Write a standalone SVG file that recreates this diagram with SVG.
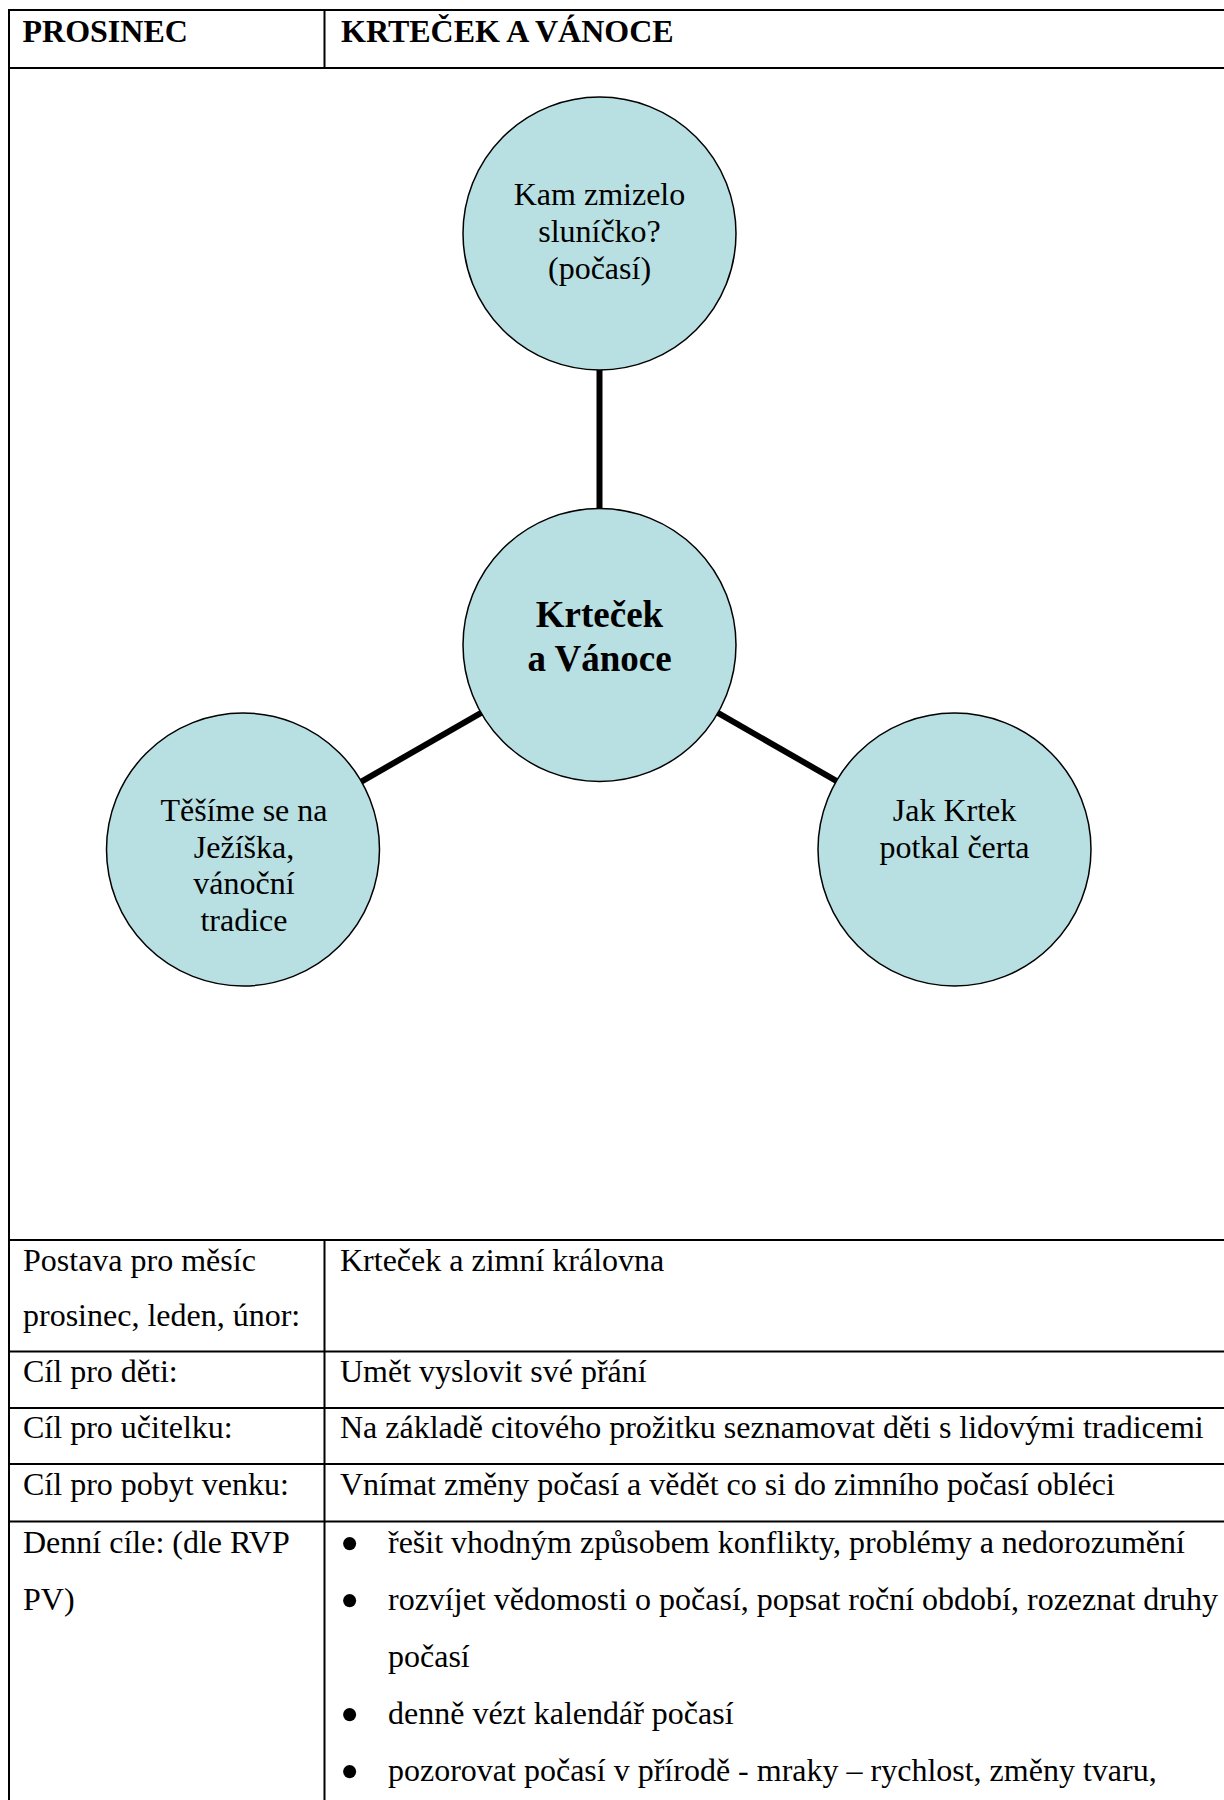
<svg xmlns="http://www.w3.org/2000/svg" width="1224" height="1800" viewBox="0 0 1224 1800">
<style>
.t{font-family:"Liberation Serif","Times New Roman",serif;font-size:32px;fill:#000}
.b{font-weight:bold}
.c{text-anchor:middle}
.bul{font-family:"Liberation Serif","Times New Roman",serif;font-size:55px;fill:#000}
.node{fill:#b8dfe2;stroke:#000;stroke-width:1.5}
.conn{stroke:#000;stroke-width:6;fill:none}
.grid{stroke:#000;stroke-width:2;fill:none}
</style>
<rect width="1224" height="1800" fill="#fff"/>
<g id="table">
<path class="grid" d="M9 10H1224M9 68H1224M9 1240H1224M9 1351.5H1224M9 1408H1224M9 1464H1224M9 1521.5H1224M9 9V1800M324.5 10V68M324.5 1240V1800"/>
<text class="t b" x="22.5" y="42">PROSINEC</text>
<text class="t b" x="341" y="42">KRTEČEK A VÁNOCE</text>
<text class="t" x="23" y="1271">Postava pro měsíc</text>
<text class="t" x="23" y="1326">prosinec, leden, únor:</text>
<text class="t" x="340" y="1271">Krteček a zimní královna</text>
<text class="t" x="23" y="1382">Cíl pro děti:</text>
<text class="t" x="340" y="1382">Umět vyslovit své přání</text>
<text class="t" x="23" y="1438">Cíl pro učitelku:</text>
<text class="t" x="340" y="1438">Na základě citového prožitku seznamovat děti s lidovými tradicemi</text>
<text class="t" x="23" y="1495">Cíl pro pobyt venku:</text>
<text class="t" x="340" y="1495">Vnímat změny počasí a vědět co si do zimního počasí obléci</text>
<text class="t" x="23" y="1553">Denní cíle: (dle RVP</text>
<text class="t" x="23" y="1610">PV)</text>
<text class="bul" x="340" y="1562">•</text>
<text class="t" x="388" y="1553">řešit vhodným způsobem konflikty, problémy a nedorozumění</text>
<text class="bul" x="340" y="1619">•</text>
<text class="t" x="388" y="1610">rozvíjet vědomosti o počasí, popsat roční období, rozeznat druhy</text>
<text class="t" x="388" y="1667">počasí</text>
<text class="bul" x="340" y="1733">•</text>
<text class="t" x="388" y="1724">denně vézt kalendář počasí</text>
<text class="bul" x="340" y="1790">•</text>
<text class="t" x="388" y="1781">pozorovat počasí v přírodě - mraky – rychlost, změny tvaru,</text>
</g>
<g id="connectors">
<line class="conn" x1="599.5" y1="368" x2="599.5" y2="510"/>
<line class="conn" x1="482" y1="712.4" x2="360.5" y2="782.1"/>
<line class="conn" x1="717" y1="712.4" x2="838.5" y2="782.1"/>
</g>
<g id="node-top">
<circle class="node" cx="599.5" cy="233.5" r="136.5"/>
<text class="t c" x="599.5" y="205">Kam zmizelo</text>
<text class="t c" x="599.5" y="242">sluníčko?</text>
<text class="t c" x="599.5" y="279">(počasí)</text>
</g>
<g id="node-center">
<circle class="node" cx="599.5" cy="645" r="136.5"/>
<text class="t b c" x="599.5" y="627" style="font-size:37px">Krteček</text>
<text class="t b c" x="599.5" y="671" style="font-size:37px">a Vánoce</text>
</g>
<g id="node-left">
<circle class="node" cx="243" cy="849.5" r="136.5"/>
<text class="t c" x="244" y="821">Těšíme se na</text>
<text class="t c" x="244" y="857.5">Ježíška,</text>
<text class="t c" x="244" y="894">vánoční</text>
<text class="t c" x="244" y="930.5">tradice</text>
</g>
<g id="node-right">
<circle class="node" cx="954.5" cy="849.5" r="136.5"/>
<text class="t c" x="954.5" y="821">Jak Krtek</text>
<text class="t c" x="954.5" y="858">potkal čerta</text>
</g>
</svg>
